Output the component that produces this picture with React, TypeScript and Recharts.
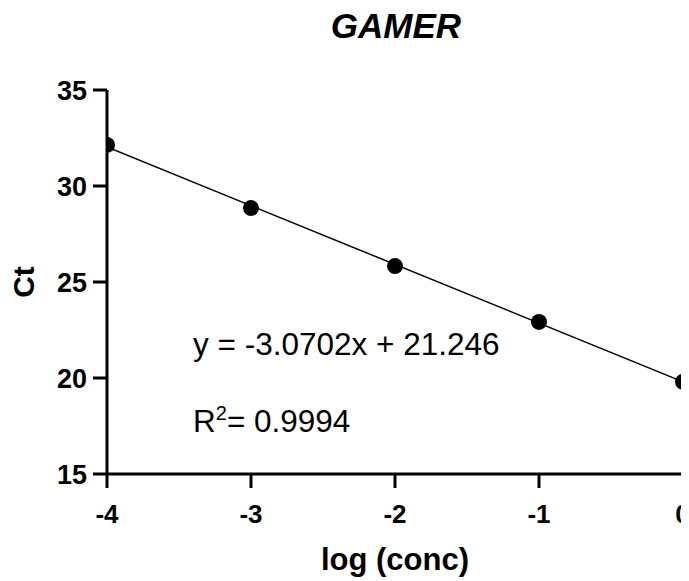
import React from "react";
import { ComposedChart, Scatter, Line, XAxis, YAxis, Label, Customized } from "recharts";

const logConc = [-4, -3, -2, -1, 0];
const ctValues = [32.14, 28.85, 25.83, 22.92, 19.8];
const fitX = [-4, 0];
const fitY = [32.03, 19.8];
const xTicks = [-4, -3, -2, -1, 0];
const yTicks = [15, 20, 25, 30, 35];
const title = "GAMER";
const equationText = "y = -3.0702x + 21.246";
const r2Value = "0.9994";

const points = logConc.map((x, i) => ({ x, y: ctValues[i] }));
const fitLine = fitX.map((x, i) => ({ x, y: fitY[i] }));

const FONT = "'Liberation Sans', Arial, Helvetica, sans-serif";

const Annotations = () => (
  <g fontFamily={FONT} fill="#000">
    <text x={388} y={30} textAnchor="middle" fontSize={35} fontWeight="bold" fontStyle="italic">
      {title}
    </text>
    <text x={185} y={347} fontSize={31.5}>
      {equationText}
    </text>
    <text x={185} y={424} fontSize={31.5}>
      R<tspan dy={-12} fontSize={20}>2</tspan>
      <tspan dy={12}>= {r2Value}</tspan>
    </text>
  </g>
);

export default function App() {
  return (
    <div style={{ width: 681, height: 573, overflow: "hidden" }}>
      <ComposedChart
        width={681}
        height={573}
        margin={{ top: 82, right: 6, bottom: 47, left: 39 }}
        style={{ fontFamily: FONT }}
      >
        <XAxis
          type="number"
          dataKey="x"
          domain={[-4, 0]}
          ticks={xTicks}
          allowDataOverflow
          height={60}
          tickSize={14}
          tickMargin={17}
          axisLine={{ stroke: "#000", strokeWidth: 3 }}
          tickLine={{ stroke: "#000", strokeWidth: 3 }}
          tick={{ fill: "#000", fontSize: 26, fontWeight: "bold", fontFamily: FONT }}
        >
          <Label
            value="log (conc)"
            position="bottom"
            offset={14}
            style={{ fill: "#000", fontSize: 31, fontWeight: "bold", fontFamily: FONT }}
          />
        </XAxis>
        <YAxis
          type="number"
          dataKey="y"
          domain={[15, 35]}
          ticks={yTicks}
          allowDataOverflow
          width={60}
          tickSize={14}
          tickMargin={6}
          axisLine={{ stroke: "#000", strokeWidth: 3 }}
          tickLine={{ stroke: "#000", strokeWidth: 3 }}
          tick={{ fill: "#000", fontSize: 27, fontWeight: "bold", fontFamily: FONT }}
        >
          <Label
            value="Ct"
            angle={-90}
            position="left"
            offset={24}
            style={{ fill: "#000", fontSize: 30, fontWeight: "bold", fontFamily: FONT, textAnchor: "middle" }}
          />
        </YAxis>
        <Line
          data={fitLine}
          dataKey="y"
          type="linear"
          stroke="#000"
          strokeWidth={1.5}
          dot={false}
          activeDot={false}
          isAnimationActive={false}
        />
        <Scatter
          data={points}
          dataKey="y"
          fill="#000"
          shape={(p: any) => <circle cx={p.cx} cy={p.cy} r={8} fill="#000" />}
          isAnimationActive={false}
        />
        <Customized component={Annotations} />
      </ComposedChart>
    </div>
  );
}
